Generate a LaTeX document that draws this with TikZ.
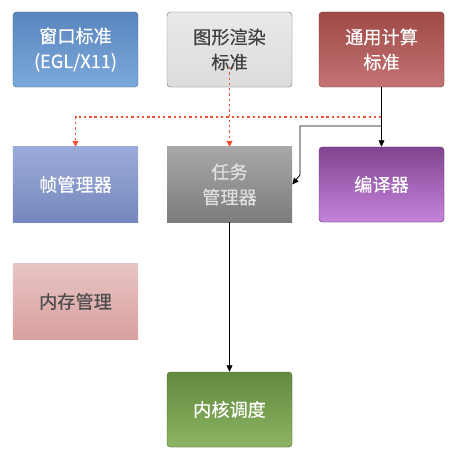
\documentclass[tikz,border=0pt]{standalone}
\usepackage{fontspec}
\newfontfamily\cjk[FakeBold=0.4]{Noto Sans CJK SC}
\usetikzlibrary{arrows.meta,shadows}
\definecolor{dotred}{RGB}{240, 80, 50}
\tikzset{
  box/.style={minimum width=3.75cm, minimum height=2.25cm, inner sep=0pt,
    align=center, font=\cjk\fontsize{15.5}{21.5}\selectfont,
    drop shadow={opacity=0.15, shadow xshift=0.3pt, shadow yshift=-0.6pt}},
  roundbox/.style={box, rounded corners=3pt, draw=#1, line width=0.4pt},
  squarebox/.style={box},
  reddot/.style={draw=dotred, line width=1pt, dash pattern=on 2pt off 2.5pt,
    -{Triangle[width=5pt,length=5pt,fill=dotred]}},
  link/.style={black, line width=0.7pt, -{Triangle[width=5pt,length=5.5pt]}}
}
\begin{document}
\begin{tikzpicture}[x=0.03cm, y=-0.03cm]
			\definecolor{wintop}{RGB}{90, 133, 190}
			\definecolor{winbot}{RGB}{124, 169, 220}
			\definecolor{gfxtop}{RGB}{233, 233, 233}
			\definecolor{gfxbot}{RGB}{220, 220, 220}
			\definecolor{calctop}{RGB}{158, 74, 70}
			\definecolor{calcbot}{RGB}{196, 116, 116}
			\definecolor{frametop}{RGB}{154, 171, 217}
			\definecolor{framebot}{RGB}{118, 135, 189}
			\definecolor{tasktop}{RGB}{168, 168, 168}
			\definecolor{taskbot}{RGB}{124, 124, 124}
			\definecolor{comptop}{RGB}{128, 69, 144}
			\definecolor{compbot}{RGB}{197, 132, 220}
			\definecolor{memtop}{RGB}{232, 196, 196}
			\definecolor{membot}{RGB}{217, 160, 160}
			\definecolor{kerntop}{RGB}{98, 138, 62}
			\definecolor{kernbot}{RGB}{140, 180, 99}
			\useasboundingbox[fill=white] (0,0) rectangle (457,461);
			% top row
			\node[roundbox=wintop!80!black, top color=wintop, bottom color=winbot, text=white] (win) at (75.5,49.5) {窗口标准\\(EGL/X11)};
			\node[roundbox=gray, top color=gfxtop, bottom color=gfxbot, text=black!75] (gfx) at (229.5,49.5) {图形渲染\\标准};
			\node[roundbox=calctop!80!black, top color=calctop, bottom color=calcbot, text=white] (calc) at (381.5,49.5) {通用计算\\标准};
			% middle row
			\node[squarebox, top color=frametop, bottom color=framebot, text=white] (frame) at (75.5,184.5) {帧管理器};
			\node[squarebox, top color=tasktop, bottom color=taskbot, text=black!12] (task) at (229.5,184.5) {任务\\管理器};
			\node[roundbox=comptop!80!black, top color=comptop, bottom color=compbot, text=white] (comp) at (381.5,184.5) {编译器};
			% bottom
			\node[squarebox, top color=memtop, bottom color=membot, text=black!70] (mem) at (75.5,301.5) {内存管理};
			\node[roundbox=kerntop!80!black, top color=kerntop, bottom color=kernbot, text=white] (kern) at (229.5,409.5) {内核调度};
			% connectors
			\coordinate (gfxdot) at (229.5,67);
			\coordinate (split) at (381.5,117);
			\coordinate (fork) at (381.5,126);
			\coordinate (turn) at (300,126);
			\coordinate (drop) at (300,175);
			\draw[reddot] (gfxdot) -- (task.north);
			\draw[reddot] (split) -| (frame.north);
			\draw[link] (calc.south) -- (comp.north);
			\draw[link] (fork) -- (turn) -- (drop) -- (task.east);
			\draw[link] (task.south) -- (kern.north);
		\end{tikzpicture}
\end{document}
